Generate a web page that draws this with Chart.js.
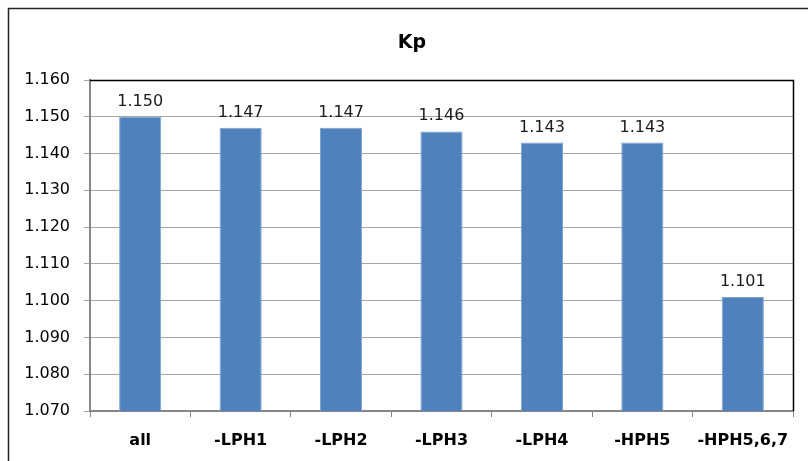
<!DOCTYPE html>
<html>
<head>
<meta charset="utf-8">
<script src="https://cdn.jsdelivr.net/npm/chart.js@4.4.0/dist/chart.umd.min.js"></script>
<style>
  html, body { margin: 0; padding: 0; background: #fff; }
  #wrap { width: 808px; height: 461px; position: relative; }
</style>
</head>
<body>
<div id="wrap"><canvas id="kpChart" width="808" height="461"></canvas></div>
<script>
// chart data
const categories = ['all', '-LPH1', '-LPH2', '-LPH3', '-LPH4', '-HPH5', '-HPH5,6,7'];
const kpValues = [1.150, 1.147, 1.147, 1.146, 1.143, 1.143, 1.101];
const chartTitle = 'Kp';
const yMin = 1.070;
const yMax = 1.160;
const yStep = 0.010;

const fontFamily = '"DejaVu Sans", "Liberation Sans", sans-serif';

// frame, title and plot border
const framePlugin = {
  id: 'frame',
  beforeDraw(chart) {
    const ctx = chart.ctx;
    ctx.save();
    ctx.fillStyle = '#fff';
    ctx.fillRect(0, 0, chart.width, chart.height);
    ctx.strokeStyle = '#222';
    ctx.lineWidth = 1.5;
    ctx.beginPath();
    ctx.moveTo(8.5, chart.height);
    ctx.lineTo(8.5, 8.5);
    ctx.lineTo(chart.width, 8.5);
    ctx.stroke();
    ctx.restore();
  },
  afterDraw(chart) {
    const ctx = chart.ctx;
    const a = chart.chartArea;
    ctx.save();
    ctx.fillStyle = '#000';
    ctx.font = 'bold 19px ' + fontFamily;
    ctx.textAlign = 'center';
    ctx.textBaseline = 'alphabetic';
    ctx.fillText(chartTitle, 412, 48);
    // top and right border of plot area
    ctx.strokeStyle = '#000';
    ctx.lineWidth = 1.5;
    ctx.beginPath();
    ctx.moveTo(a.left, Math.round(a.top) + 0.5);
    ctx.lineTo(Math.round(a.right) + 0.5, Math.round(a.top) + 0.5);
    ctx.lineTo(Math.round(a.right) + 0.5, a.bottom);
    ctx.stroke();
    ctx.restore();
  }
};

// value labels above each bar
const valueLabels = {
  id: 'valueLabels',
  afterDatasetsDraw(chart) {
    const ctx = chart.ctx;
    const meta = chart.getDatasetMeta(0);
    ctx.save();
    ctx.fillStyle = '#1a1a1a';
    ctx.font = '16px ' + fontFamily;
    ctx.textAlign = 'center';
    ctx.textBaseline = 'alphabetic';
    meta.data.forEach((bar, i) => {
      ctx.fillText(kpValues[i].toFixed(3), bar.x, bar.y - 11);
    });
    ctx.restore();
  }
};

const ctx = document.getElementById('kpChart').getContext('2d');
const kpChart = new Chart(ctx, {
  type: 'bar',
  data: {
    labels: categories,
    datasets: [{
      label: chartTitle,
      data: kpValues,
      backgroundColor: '#4F81BD',
      borderColor: '#7EA3CF',
      borderWidth: 1,
      barPercentage: 0.42,
      categoryPercentage: 1.0
    }]
  },
  options: {
    responsive: false,
    animation: false,
    layout: { padding: { left: 8, right: 15, top: 80, bottom: 0 } },
    plugins: {
      legend: { display: false },
      title: { display: false },
      tooltip: { enabled: false }
    },
    scales: {
      x: {
        afterFit(scale) { scale.height = 50; },
        grid: {
          offset: true,
          drawOnChartArea: false,
          drawTicks: true,
          tickLength: 6,
          color: '#868686'
        },
        border: { color: '#868686', width: 2 },
        ticks: {
          color: '#000',
          padding: 14,
          font: { family: fontFamily, size: 16, weight: 'bold' }
        }
      },
      y: {
        min: yMin,
        max: yMax,
        afterFit(scale) { scale.width = 82; },
        grid: {
          color: '#a6a6a6',
          tickLength: 6,
          lineWidth: 1
        },
        border: { color: '#868686', width: 2 },
        ticks: {
          stepSize: yStep,
          color: '#000',
          padding: 14,
          font: { family: fontFamily, size: 16 },
          callback: function(value) { return value.toFixed(3); }
        }
      }
    }
  },
  plugins: [framePlugin, valueLabels]
});
</script>
</body>
</html>
